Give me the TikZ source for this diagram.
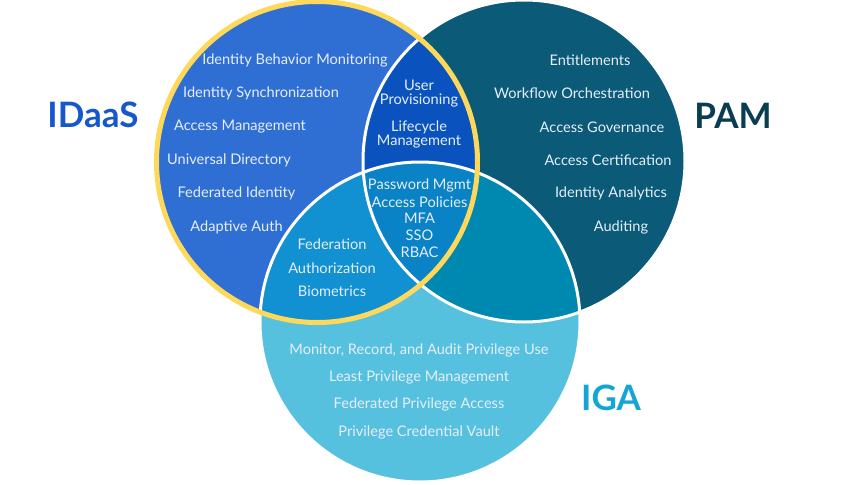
\documentclass[tikz,border=0pt]{standalone}
\usepackage{fontspec}
\setmainfont{Lato}
\definecolor{cL}{HTML}{2F6FD4}
\definecolor{cR}{HTML}{0B5A78}
\definecolor{cB}{HTML}{56C1DF}
\definecolor{cLR}{HTML}{0A53BE}
\definecolor{cLB}{HTML}{1190D2}
\definecolor{cRB}{HTML}{0089B0}
\definecolor{cLRB}{HTML}{0A82C6}
\definecolor{cYel}{HTML}{FDD85A}
\definecolor{cTxt}{HTML}{E6EEF8}
\definecolor{cIDaaS}{HTML}{1658CC}
\definecolor{cPAM}{HTML}{0A3D52}
\definecolor{cIGA}{HTML}{14A5D6}
\tikzset{
  item/.style={text=cTxt, font=\fontsize{14.6}{16}\selectfont, inner sep=0pt, anchor=center},
  stack/.style={item, align=center, font=\fontsize{14.6}{14}\selectfont},
  title/.style={font=\fontsize{35}{38}\bfseries\selectfont, inner sep=0pt, anchor=center},
  sep/.style={draw=white, line width=3pt},
}
\begin{document}
\begin{tikzpicture}[x=1pt,y=-1pt]
\useasboundingbox (0,0) rectangle (863,485);
\coordinate (L) at (317,162);
\coordinate (R) at (524,161);
\coordinate (B) at (420,322);
\def\rL{160.5pt}\def\rR{161pt}\def\rB{160pt}
% base circles
\fill[cB] (B) circle[radius=\rB];
\fill[cR] (R) circle[radius=\rR];
\fill[cL] (L) circle[radius=\rL];
% intersections
\begin{scope}
  \clip (R) circle[radius=\rR];
  \fill[cRB] (B) circle[radius=\rB];
\end{scope}
\begin{scope}
  \clip (L) circle[radius=\rL];
  \fill[cLR] (R) circle[radius=\rR];
  \fill[cLB] (B) circle[radius=\rB];
  \clip (R) circle[radius=\rR];
  \fill[cLRB] (B) circle[radius=\rB];
\end{scope}
% separators
\draw[sep] (B) circle[radius=\rB];
\draw[sep] (R) circle[radius=\rR];
\draw[cYel, line width=5pt] (L) circle[radius=\rL];
% titles
\node[title, text=cIDaaS] (tIDaaS) at (93,115) {IDaaS};
\node[title, text=cPAM] (tPAM) at (733,116) {PAM};
\node[title, text=cIGA] (tIGA) at (611,398) {IGA};
% IDaaS items
\node[item] (i1) at (295,60) {Identity Behavior Monitoring};
\node[item] (i2) at (261,93) {Identity Synchronization};
\node[item] (i3) at (240,127) {Access Management};
\node[item] (i4) at (229,160) {Universal Directory};
\node[item] (i5) at (236.5,193) {Federated Identity};
\node[item] (i6) at (236.5,227) {Adaptive Auth};
% IDaaS & PAM
\node[stack] (lr1) at (419,94) {User\\Provisioning};
\node[stack] (lr2) at (419,134) {Lifecycle\\Management};
% all three
\node[item] (c1) at (419.5,185) {Password Mgmt};
\node[item] (c2) at (419.5,202) {Access Policies};
\node[item] (c3) at (419.5,218) {MFA};
\node[item] (c4) at (419.5,235) {SSO};
\node[item] (c5) at (419.5,252) {RBAC};
% IDaaS & IGA
\node[item] (lb1) at (332,244) {Federation};
\node[item] (lb2) at (332,268) {Authorization};
\node[item] (lb3) at (332,291) {Biometrics};
% PAM
\node[item] (p1) at (590,60) {Entitlements};
\node[item] (p2) at (572,93) {Workflow Orchestration};
\node[item] (p3) at (602,127) {Access Governance};
\node[item] (p4) at (608,160) {Access Certification};
\node[item] (p5) at (611,193) {Identity Analytics};
\node[item] (p6) at (621,227) {Auditing};
% IGA
\node[item] (g1) at (419,350) {Monitor, Record, and Audit Privilege Use};
\node[item] (g2) at (419,377) {Least Privilege Management};
\node[item] (g3) at (419,404) {Federated Privilege Access};
\node[item] (g4) at (419,432) {Privilege Credential Vault};
\end{tikzpicture}
\end{document}
